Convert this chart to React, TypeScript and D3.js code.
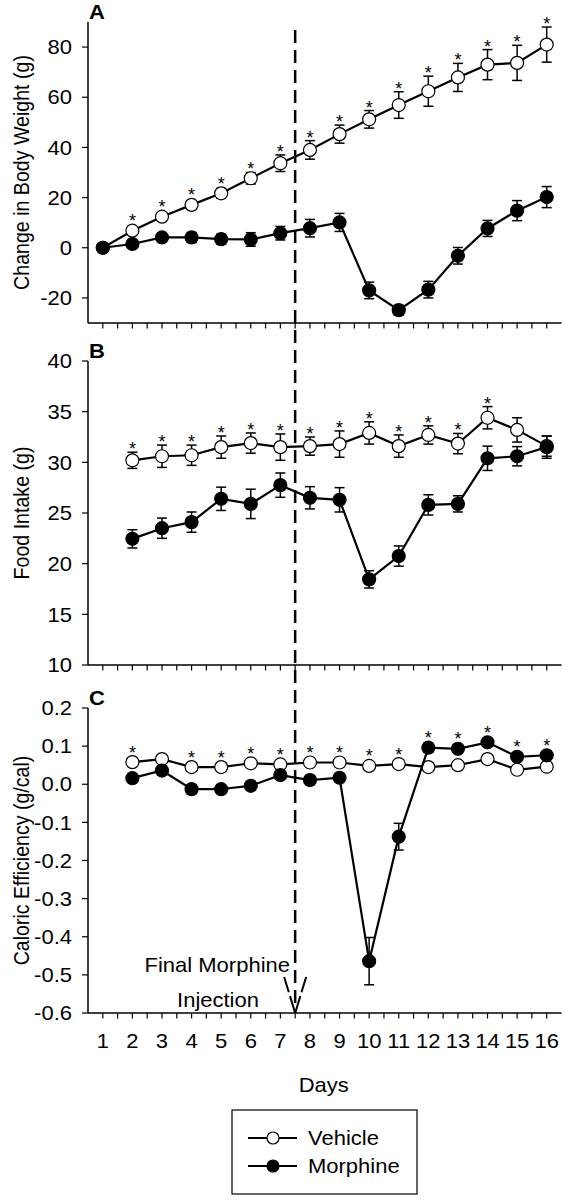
import React from "react";
import * as d3 from "d3";

// ---- Data ----
const bwDays = [1, 2, 3, 4, 5, 6, 7, 8, 9, 10, 11, 12, 13, 14, 15, 16];
const bwVehicle = [0, 6.8, 12.4, 17.1, 21.7, 27.7, 33.7, 39, 45.3, 51.2, 56.9, 62.4, 67.9, 73.0, 73.7, 81.0];
const bwVehicleErr = [0, 1.5, 1.5, 1.5, 2, 2.3, 3.3, 3.7, 3.6, 3.5, 5.3, 6, 5.6, 6, 7, 7];
const bwMorphine = [0, 1.5, 4.1, 4.1, 3.4, 3.3, 5.8, 7.8, 10.1, -17, -24.9, -16.7, -3.2, 7.7, 14.8, 20.2];
const bwMorphineErr = [0, 1, 1.5, 2, 2, 2.7, 2.7, 3.5, 3.6, 3.3, 2, 3.3, 3.3, 3.2, 4, 4.2];
const bwStars = [2, 3, 4, 5, 6, 7, 8, 9, 10, 11, 12, 13, 14, 15, 16];

const days2 = [2, 3, 4, 5, 6, 7, 8, 9, 10, 11, 12, 13, 14, 15, 16];
const fiVehicle = [30.2, 30.6, 30.7, 31.5, 31.9, 31.5, 31.6, 31.8, 32.9, 31.6, 32.7, 31.85, 34.4, 33.2, 31.6];
const fiVehicleErr = [0.8, 1.1, 1.0, 1.1, 1.0, 1.3, 0.9, 1.3, 1.1, 1.1, 0.9, 1.0, 1.1, 1.2, 1.0];
const fiMorphine = [22.45, 23.5, 24.1, 26.4, 25.9, 27.75, 26.5, 26.3, 18.45, 20.75, 25.8, 25.9, 30.4, 30.6, 31.5];
const fiMorphineErr = [0.9, 1.0, 1.0, 1.15, 1.45, 1.2, 1.1, 1.2, 0.85, 1.0, 1.0, 0.8, 1.2, 0.95, 1.1];
const fiStars = [2, 3, 4, 5, 6, 7, 8, 9, 10, 11, 12, 13, 14];

const ceVehicle = [0.058, 0.066, 0.045, 0.045, 0.055, 0.052, 0.057, 0.057, 0.048, 0.053, 0.045, 0.05, 0.066, 0.038, 0.046];
const ceVehicleErr = [0.004, 0.004, 0.004, 0.004, 0.004, 0.004, 0.004, 0.004, 0.004, 0.004, 0.004, 0.004, 0.004, 0.004, 0.004];
const ceMorphine = [0.016, 0.036, -0.013, -0.013, -0.004, 0.024, 0.011, 0.017, -0.464, -0.1375, 0.096, 0.093, 0.11, 0.072, 0.076];
const ceMorphineErr = [0.01, 0.012, 0.012, 0.008, 0.01, 0.008, 0.012, 0.008, 0.062, 0.035, 0.012, 0.01, 0.008, 0.01, 0.01];
const ceStars = [2, 4, 5, 6, 7, 8, 9, 10, 11, 12, 13, 14, 15, 16];

const bwTicks = [-20, 0, 20, 40, 60, 80];
const fiTicks = [10, 15, 20, 25, 30, 35, 40];
const ceTicks = [-0.6, -0.5, -0.4, -0.3, -0.2, -0.1, 0.0, 0.1, 0.2];
const dayTicks = [1, 2, 3, 4, 5, 6, 7, 8, 9, 10, 11, 12, 13, 14, 15, 16];
const injectionDay = 7.5;

const FONT = "'Liberation Sans', Arial, Helvetica, sans-serif";
const SX = 1.1; // horizontal stretch of the reference's lettering

const x = d3.scaleLinear().domain([0.5, 16.5]).range([88, 561.5]);
const minorTicks = d3.range(1, 16.01, 0.5);

function HText(props: {
  x: number;
  y: number;
  anchor?: "start" | "middle" | "end";
  size?: number;
  bold?: boolean;
  dy?: string;
  children: React.ReactNode;
}) {
  const { x: tx, y: ty, anchor = "start", size = 20, bold = false, dy } = props;
  return (
    <g transform={`translate(${tx},${ty}) scale(${SX},1)`}>
      <text
        x={0}
        y={0}
        dy={dy}
        textAnchor={anchor}
        fontSize={size}
        fontWeight={bold ? "bold" : "normal"}
        fontFamily={FONT}
        fill="#000"
      >
        {props.children}
      </text>
    </g>
  );
}

type Series = { days: number[]; vals: number[]; errs: number[]; filled: boolean };

function Panel(props: {
  label: string;
  title: string;
  domain: [number, number];
  top: number;
  bottom: number;
  ticks: number[];
  fmt: (v: number) => string;
  series: Series[];
  stars: number[];
}) {
  const { label, title, domain, top, bottom, ticks, fmt, series, stars } = props;
  const y = d3.scaleLinear().domain(domain).range([bottom, top]);
  const line = d3
    .line<[number, number]>()
    .x((d) => x(d[0]))
    .y((d) => y(d[1]));
  const r = 6.5;
  const cap = 5;
  const starPos = stars.map((day) => {
    let m = Infinity;
    series.forEach((s) => {
      const i = s.days.indexOf(day);
      if (i >= 0) {
        const cy = y(s.vals[i]);
        const et = y(s.vals[i] + s.errs[i]);
        m = Math.min(m, et, cy - r);
      }
    });
    return { day, cy: m - 7 };
  });
  return (
    <g>
      <line x1={88} x2={88} y1={top} y2={bottom} stroke="#000" strokeWidth={1.5} />
      <line x1={88} x2={561.5} y1={bottom} y2={bottom} stroke="#000" strokeWidth={1.5} />
      {ticks.map((t) => (
        <g key={t}>
          <line x1={82} x2={88} y1={y(t)} y2={y(t)} stroke="#000" strokeWidth={1.2} />
          <HText x={72} y={y(t)} dy="0.36em" anchor="end">
            {fmt(t)}
          </HText>
        </g>
      ))}
      {minorTicks.map((t) => (
        <line key={t} x1={x(t)} x2={x(t)} y1={bottom} y2={bottom + 5.5} stroke="#000" strokeWidth={1.2} />
      ))}
      <text
        transform={`translate(21,${(top + bottom) / 2}) rotate(-90) scale(0.98,1.08)`}
        textAnchor="middle"
        dy="0.36em"
        fontSize={20}
        fontFamily={FONT}
      >
        {title}
      </text>
      <HText x={89} y={top - 3} bold>
        {label}
      </HText>
      {series.map((s, si) => {
        const pts = s.days.map((d, i) => [d, s.vals[i]] as [number, number]);
        return (
          <g key={si}>
            <path d={line(pts) || ""} fill="none" stroke="#000" strokeWidth={2.2} />
            {s.days.map((d, i) =>
              s.errs[i] > 0 ? (
                <g key={d} stroke="#000" strokeWidth={1.5}>
                  <line x1={x(d)} x2={x(d)} y1={y(s.vals[i] - s.errs[i])} y2={y(s.vals[i] + s.errs[i])} />
                  <line x1={x(d) - cap} x2={x(d) + cap} y1={y(s.vals[i] + s.errs[i])} y2={y(s.vals[i] + s.errs[i])} />
                  <line x1={x(d) - cap} x2={x(d) + cap} y1={y(s.vals[i] - s.errs[i])} y2={y(s.vals[i] - s.errs[i])} />
                </g>
              ) : null
            )}
            {s.days.map((d, i) => (
              <circle key={d} cx={x(d)} cy={y(s.vals[i])} r={r} fill={s.filled ? "#000" : "#fff"} stroke="#000" strokeWidth={1.2} />
            ))}
          </g>
        );
      })}
      {starPos.map((s) => (
        <text key={s.day} x={x(s.day)} y={s.cy + 10} textAnchor="middle" fontSize={18} fontFamily={FONT}>
          *
        </text>
      ))}
    </g>
  );
}

export default function App() {
  const tip = 1013;
  const xi = x(injectionDay);
  return (
    <svg width={566} height={1200} style={{ position: "absolute", left: 0, top: 0, background: "#fff" }}>
      <rect width={566} height={1200} fill="#fff" />
      <Panel
        label="A"
        title="Change in Body Weight (g)"
        domain={[-30, 90]}
        top={22}
        bottom={323}
        ticks={bwTicks}
        fmt={(v) => String(v)}
        series={[
          { days: bwDays, vals: bwVehicle, errs: bwVehicleErr, filled: false },
          { days: bwDays, vals: bwMorphine, errs: bwMorphineErr, filled: true },
        ]}
        stars={bwStars}
      />
      <Panel
        label="B"
        title="Food Intake (g)"
        domain={[10, 40]}
        top={361}
        bottom={665}
        ticks={fiTicks}
        fmt={(v) => String(v)}
        series={[
          { days: days2, vals: fiVehicle, errs: fiVehicleErr, filled: false },
          { days: days2, vals: fiMorphine, errs: fiMorphineErr, filled: true },
        ]}
        stars={fiStars}
      />
      <Panel
        label="C"
        title="Caloric Efficiency (g/cal)"
        domain={[-0.6, 0.2]}
        top={708}
        bottom={1013}
        ticks={ceTicks}
        fmt={(v) => d3.format(".1f")(v).replace("−", "-")}
        series={[
          { days: days2, vals: ceVehicle, errs: ceVehicleErr, filled: false },
          { days: days2, vals: ceMorphine, errs: ceMorphineErr, filled: true },
        ]}
        stars={ceStars}
      />
      {dayTicks.map((d) => (
        <HText key={d} x={x(d)} y={1048} anchor="middle">
          {d}
        </HText>
      ))}
      <HText x={x(8.5) - 1} y={1092} anchor="middle">
        Days
      </HText>
      <line x1={xi} x2={xi} y1={30} y2={tip} stroke="#000" strokeWidth={2.5} strokeDasharray="13,7" />
      <line x1={xi - 11} x2={xi} y1={977} y2={tip} stroke="#000" strokeWidth={2} strokeDasharray="16,4" />
      <line x1={xi + 11} x2={xi} y1={977} y2={tip} stroke="#000" strokeWidth={2} strokeDasharray="16,4" />
      <HText x={290} y={972} anchor="end">
        Final Morphine
      </HText>
      <HText x={218} y={1007} anchor="middle">
        Injection
      </HText>
      <rect x={232} y={1110} width={185} height={84} fill="#fff" stroke="#000" strokeWidth={1.2} />
      <line x1={248} x2={297} y1={1138} y2={1138} stroke="#000" strokeWidth={2} />
      <circle cx={273} cy={1138} r={6} fill="#fff" stroke="#000" strokeWidth={1.2} />
      <HText x={308} y={1138} dy="0.36em">
        Vehicle
      </HText>
      <line x1={248} x2={297} y1={1166} y2={1166} stroke="#000" strokeWidth={2} />
      <circle cx={273} cy={1166} r={6} fill="#000" stroke="#000" strokeWidth={1.2} />
      <HText x={308} y={1166} dy="0.36em">
        Morphine
      </HText>
    </svg>
  );
}
